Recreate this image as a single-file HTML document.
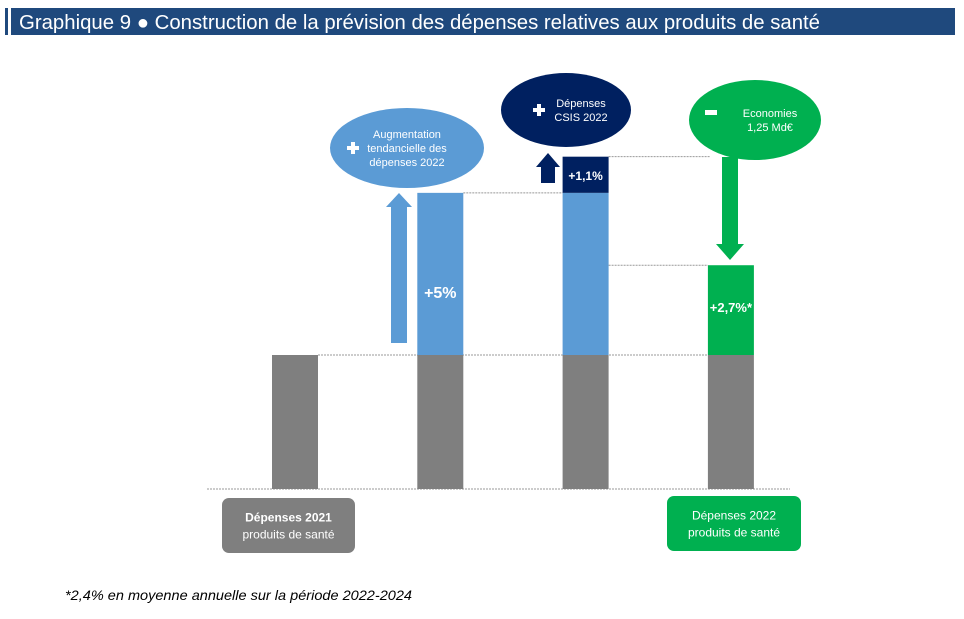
<!DOCTYPE html>
<html><head><meta charset="utf-8"><style>
body{margin:0;background:#fff;width:964px;height:614px;overflow:hidden;font-family:"Liberation Sans",sans-serif}
</style></head><body>
<svg width="964" height="614" xmlns="http://www.w3.org/2000/svg">
<rect x="5" y="8" width="3" height="27" fill="#1f497d"/>
<rect x="11" y="8" width="944" height="27" fill="#1f497d"/>
<text x="19" y="29" font-size="20" fill="#fff" textLength="801" lengthAdjust="spacingAndGlyphs">Graphique 9 ● Construction de la prévision des dépenses relatives aux produits de santé</text>
<g id="plot"></g>
<text x="65" y="600" font-size="14" font-style="italic" fill="#000" textLength="347" lengthAdjust="spacingAndGlyphs">*2,4% en moyenne annuelle sur la période 2022-2024</text>
</svg>
<script>
const categories=["Dépenses 2021","Augmentation","CSIS","Dépenses 2022"];
const baseValues=[100,100,100,100];
const growthValues=[0,121,121,0];
const csisValues=[0,0,27,0];
const finalValues=[0,0,0,67];
const segLabels=["","+5%","+1,1%","+2,7%*"];
const NS="http://www.w3.org/2000/svg";
const g=document.getElementById('plot');
const baseY=489, k=1.34, barW=46;
const xs=i=>272+i*145.3;
const y=v=>baseY-v*k;
function el(t,a,p){const e=document.createElementNS(NS,t);for(const n in a)e.setAttribute(n,a[n]);(p||g).appendChild(e);return e;}
function txt(x,yy,s,size,fill,bold,anchor){const e=el('text',{x:x,y:yy,'font-size':size,fill:fill,'text-anchor':anchor||'middle','font-weight':bold?'bold':'normal'});e.textContent=s;return e;}
const dl=(x1,x2,yy)=>{const e=el('line',{x1:x1,x2:x2,y1:yy,y2:yy,stroke:'#999','stroke-dasharray':'2,1','stroke-width':1});

};
const bl=el('line',{x1:207,x2:790,y1:baseY,y2:baseY,stroke:'#999','stroke-dasharray':'2,1'});


dl(xs(0)+barW,xs(3),y(baseValues[0]));
dl(xs(1)+barW,xs(2),y(baseValues[1]+growthValues[1]));
dl(xs(2)+barW,xs(3)+2,y(baseValues[2]+growthValues[2]+csisValues[2]));
dl(xs(2)+barW,xs(3),y(baseValues[3]+finalValues[3]));
categories.forEach((c,i)=>{
 let b=el('rect',{x:xs(i),y:y(baseValues[i]),width:barW,height:baseValues[i]*k,fill:'#7f7f7f'});
 
 
 let top=baseValues[i];
 if(growthValues[i]){let r=el('rect',{x:xs(i),y:y(top+growthValues[i]),width:barW,height:growthValues[i]*k,fill:'#5b9bd5'});
 
 
 if(i==1){const t=txt(xs(i)+barW/2,y(top+growthValues[i]/2)+24,segLabels[i],16,'#fff',true);}
 top+=growthValues[i];}
 if(csisValues[i]){let r=el('rect',{x:xs(i),y:y(top+csisValues[i]),width:barW,height:csisValues[i]*k,fill:'#002060'});
 
 
 const t=txt(xs(i)+barW/2,y(top+csisValues[i]/2)+5,segLabels[i],12,'#fff',true);}
 if(finalValues[i]){let r=el('rect',{x:xs(i),y:y(top+finalValues[i]),width:barW,height:finalValues[i]*k,fill:'#00b050'});
 
 
 const t=txt(xs(i)+barW/2,y(top+finalValues[i]/2)+2,segLabels[i],13,'#fff',true);}
});
function arrow(x,y1,y2,w,hw,hl,fill,name){const up=y2<y1;const s=up?1:-1;
 const pts=[[x-w/2,y1],[x-w/2,y2+s*hl],[x-hw/2,y2+s*hl],[x,y2],[x+hw/2,y2+s*hl],[x+w/2,y2+s*hl],[x+w/2,y1]];
 const p=el('polygon',{points:pts.map(q=>q.join(',')).join(' '),fill:fill});
 
 }
arrow(399,343,193,16,26,14,'#5b9bd5','arrow-growth');
arrow(548,183,153,14,24,14,'#002060','arrow-csis');
arrow(730,157,260,16,28,16,'#00b050','arrow-savings');
function bubble(cx,cy,rx,ry,fill,lines,name,sign,sx,tx){const e=el('ellipse',{cx:cx,cy:cy,rx:rx,ry:ry,fill:fill});
 
 
 if(sign=='+'){el('rect',{x:sx-6,y:cy-2,width:12,height:4,fill:'#fff'});el('rect',{x:sx-2,y:cy-6,width:4,height:12,fill:'#fff'});}
 else el('rect',{x:sx-6,y:cy-10,width:12,height:5,fill:'#fff'});
 lines.forEach((l,j)=>{txt(tx,cy-(lines.length-1)*7+j*14+4,l,11,'#fff',false);});}
bubble(407,148,77,40,'#5b9bd5',['Augmentation','tendancielle des','dépenses 2022'],'bubble-growth','+',353,407);
bubble(566,110,65,37,'#002060',['Dépenses','CSIS 2022'],'bubble-csis','+',539,581);
bubble(755,120,66,40,'#00b050',['Economies','1,25 Md€'],'bubble-savings','-',711,770);
function box(x,yy,w,h,fill,l1,l2,bold,name){const r=el('rect',{x:x,y:yy,width:w,height:h,rx:7,fill:fill});
 
 
 txt(x+w/2,yy+h/2-4,l1,12,'#fff',bold);txt(x+w/2,yy+h/2+13,l2,12,'#fff',false);}
box(222,498,133,55,'#7f7f7f','Dépenses 2021','produits de santé',true,'label-box-2021');
box(667,496,134,55,'#00b050','Dépenses 2022','produits de santé',false,'label-box-2022');
</script>
</body></html>
